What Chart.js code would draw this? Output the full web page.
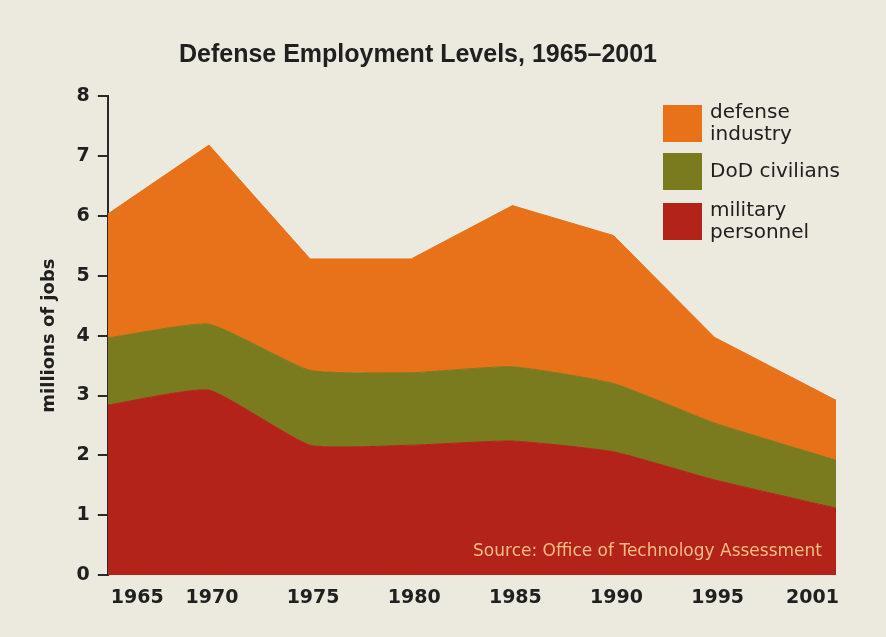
<!DOCTYPE html>
<html>
<head>
<meta charset="utf-8">
<script src="https://cdn.jsdelivr.net/npm/chart.js@4.4.1/dist/chart.umd.min.js"></script>
<style>
  html, body { margin: 0; padding: 0; background: #ECE9DF; }
  #wrap { width: 886px; height: 637px; }
</style>
</head>
<body>
<div id="wrap"><canvas id="chart"></canvas></div>
<script>
// Defense employment, millions of jobs (stacked areas)
const years = [1965, 1970, 1975, 1980, 1985, 1990, 1995, 2001];
const military  = [2.84, 3.09, 2.17, 2.17, 2.24, 2.06, 1.59, 1.12];
const civilians = [1.12, 1.10, 1.25, 1.21, 1.24, 1.14, 0.95, 0.80];
const industry  = [2.07, 2.99, 1.86, 1.90, 2.69, 2.47, 1.43, 1.00];

const redColor = '#B4231A';
const oliveColor = '#7A7A1E';
const orangeColor = '#E8721A';
const inkColor = '#202020';

const sourceText = 'Source: Office of Technology Assessment';

const legendItems = [
  { lines: ['defense', 'industry'], color: orangeColor },
  { lines: ['DoD civilians'], color: oliveColor },
  { lines: ['military', 'personnel'], color: redColor }
];

const toPoints = vals => years.map((yr, i) => ({ x: yr, y: vals[i] }));

// source line written inside the red band
const sourceNote = {
  id: 'sourceNote',
  afterDatasetsDraw(chart) {
    const { ctx, chartArea } = chart;
    ctx.save();
    ctx.font = '17px "DejaVu Sans"';
    ctx.fillStyle = '#F3BD84';
    ctx.textAlign = 'right';
    ctx.textBaseline = 'alphabetic';
    ctx.fillText(sourceText, chartArea.right - 14, chartArea.bottom - 19);
    ctx.restore();
  }
};

// key with square swatches, top right
const legendBox = {
  id: 'legendBox',
  afterDraw(chart) {
    const { ctx, chartArea } = chart;
    const boxX = chartArea.right - 173;
    const tops = [chartArea.top + 9, chartArea.top + 57, chartArea.top + 107];
    ctx.save();
    ctx.font = '20px "DejaVu Sans"';
    ctx.textAlign = 'left';
    ctx.textBaseline = 'alphabetic';
    legendItems.forEach((item, i) => {
      const top = tops[i];
      ctx.fillStyle = item.color;
      ctx.fillRect(boxX, top, 39, 37);
      ctx.fillStyle = inkColor;
      if (item.lines.length === 1) {
        ctx.fillText(item.lines[0], boxX + 47, top + 24);
      } else {
        ctx.fillText(item.lines[0], boxX + 47, top + 13);
        ctx.fillText(item.lines[1], boxX + 47, top + 35);
      }
    });
    ctx.restore();
  }
};

const tickFont = { family: '"DejaVu Sans"', size: 19, weight: 'bold' };

new Chart(document.getElementById('chart'), {
  type: 'line',
  data: {
    datasets: [
      { label: 'military personnel', data: toPoints(military), backgroundColor: redColor, borderColor: redColor, fill: 'origin', tension: 0.15 },
      { label: 'DoD civilians', data: toPoints(civilians), backgroundColor: oliveColor, borderColor: oliveColor, fill: '-1', tension: 0.15 },
      { label: 'defense industry', data: toPoints(industry), backgroundColor: orangeColor, borderColor: orangeColor, fill: '-1', tension: 0 }
    ]
  },
  options: {
    responsive: true,
    maintainAspectRatio: false,
    animation: false,
    elements: {
      point: { radius: 0, hoverRadius: 0 },
      line: { borderWidth: 1 }
    },
    layout: { padding: { left: 0, right: 50, top: 0, bottom: 17 } },
    plugins: {
      legend: { display: false },
      tooltip: { enabled: false },
      title: {
        display: true,
        text: 'Defense Employment Levels, 1965–2001',
        color: inkColor,
        font: { family: '"Liberation Sans", Arial', size: 25, weight: 'bold' },
        padding: { top: 40, bottom: 26 }
      }
    },
    scales: {
      x: {
        type: 'linear',
        min: years[0],
        max: years[years.length - 1],
        afterBuildTicks: axis => { axis.ticks = years.map(v => ({ value: v })); },
        ticks: {
          align: 'inner',
          labelOffset: 3,
          padding: 11,
          color: inkColor,
          font: tickFont,
          callback: v => String(v)
        },
        grid: { display: false, drawTicks: false },
        border: { display: false }
      },
      y: {
        stacked: true,
        min: 0,
        max: 8,
        ticks: { stepSize: 1, padding: 8, color: inkColor, font: tickFont },
        grid: { drawOnChartArea: false, drawTicks: true, tickLength: 10, color: '#2a2a2a', lineWidth: 2 },
        border: { display: true, color: '#2a2a2a', width: 2 },
        title: {
          display: true,
          text: 'millions of jobs',
          color: inkColor,
          font: { family: '"DejaVu Sans"', size: 18, weight: 'bold' },
          padding: { top: 39, bottom: 8 }
        }
      }
    }
  },
  plugins: [sourceNote, legendBox]
});
</script>
</body>
</html>
